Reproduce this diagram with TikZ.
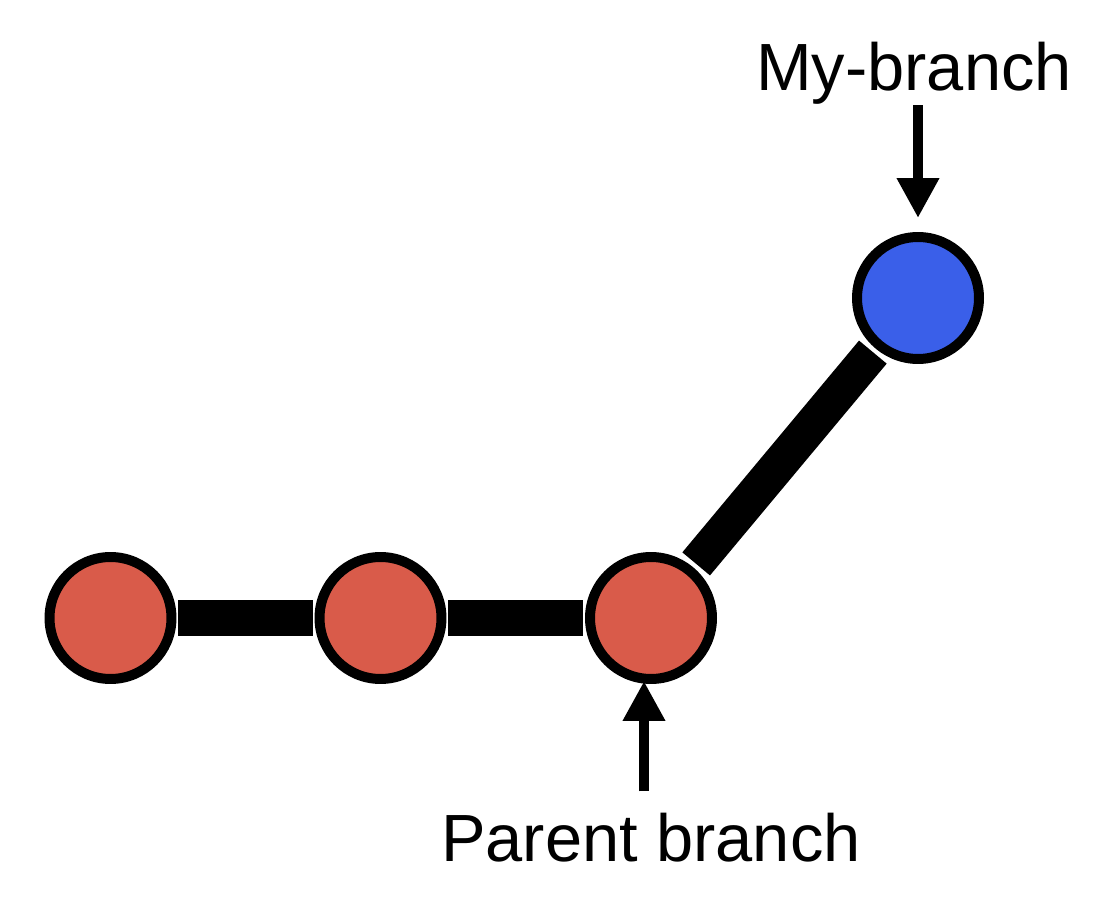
\documentclass[tikz,border=0pt]{standalone}
\usepackage{fontspec}
\setmainfont{Liberation Sans}
\usepackage{xcolor}
\usetikzlibrary{calc, arrows.meta}
\definecolor{commitred}{HTML}{D95B4A}
\definecolor{commitblue}{HTML}{3A5FE9}

\begin{document}
\begin{tikzpicture}[
        x=0.02cm, y=0.02cm,
        commit/.style={circle, draw=black, line width=0.2cm, minimum size=2.44cm, inner sep=0pt},
        link/.style={line width=0.72cm, line cap=butt},
        pointer/.style={line width=0.2cm, -{Triangle[width=0.8cm, length=0.8cm]}},
        branchlabel/.style={inner sep=0pt, font=\fontsize{38}{44}\selectfont}
    ]
        \useasboundingbox (0,0) rectangle (1108,910);

        % commits
        \node[commit, fill=commitred] (c1) at (110.5,292) {};
        \node[commit, fill=commitred] (c2) at (380.5,292) {};
        \node[commit, fill=commitred] (c3) at (651,292) {};
        \node[commit, fill=commitblue] (mine) at (918,612) {};

        % history
        \draw[link, shorten <=0.04cm, shorten >=0.04cm] (c1) -- (c2);
        \draw[link, shorten <=0.04cm, shorten >=0.04cm] (c2) -- (c3);
        \draw[link, shorten <=0.09cm, shorten >=0.09cm] (c3) -- (mine);

        % labels
        \node[branchlabel, anchor=base] (mylabel) at (914,819) {My-branch};
        \node[branchlabel, anchor=base] (parentlabel) at (651,49) {Parent branch};

        \draw[pointer, shorten >=0.28cm] (mine.north |- mylabel.south) -- (mine.north);
        \draw[pointer, shorten <=0.42cm, shorten >=-0.06cm]
            ([xshift=-0.14cm]parentlabel.north) -- ([xshift=-0.14cm]c3.south);
    \end{tikzpicture}
\end{document}
